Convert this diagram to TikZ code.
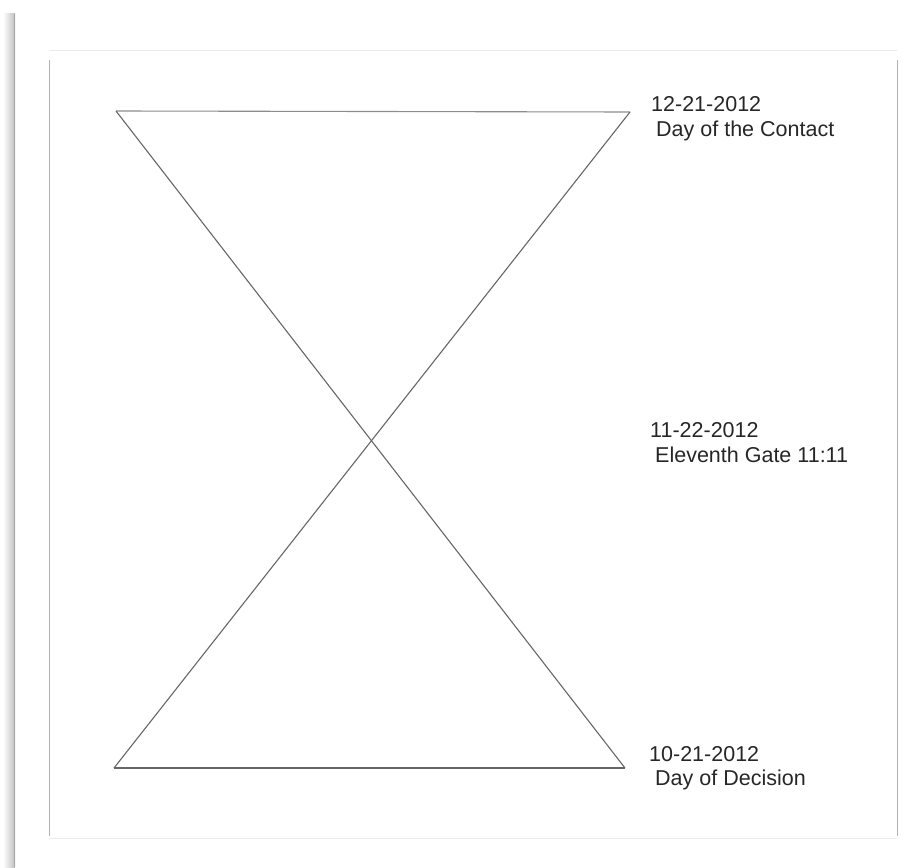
\documentclass[tikz,border=0pt]{standalone}
\usepackage{fontspec}
\setmainfont{Liberation Sans}
\usetikzlibrary{calc}

\tikzset{
  glass/.style={draw=black!60, line width=1.1pt},
  datelabel/.style={anchor=base west, inner sep=0pt, text=black!85,
    font=\fontsize{21.5}{25}\selectfont},
}

\begin{document}
\begin{tikzpicture}[x=1pt, y=-1pt]
  \useasboundingbox (0,0) rectangle (920,867);
  % page edge with its shadow
  \shade[left color=white, right color=black!25] (3,14) rectangle (15,867);
  \draw[black!35, line width=1pt] (14,14) -- (14,867);
  % card
  \draw[black!8, line width=1pt] (49,51) -- (897,51);
  \draw[black!8, line width=1pt] (49,838) -- (897,838);
  \draw[black!30, line width=1pt] (49,60) -- (49,836);
  \draw[black!30, line width=1pt] (897,60) -- (897,836);
  % hourglass
  \coordinate (TL) at (116,111);
  \coordinate (TR) at (630,112);
  \coordinate (BL) at (114,768);
  \coordinate (BR) at (625,768);
  \draw[glass, draw=black!45] (TL) -- (TR);
  \draw[glass] (BL) -- (BR);
  \draw[glass] (TL) -- (BR);
  \draw[glass] (TR) -- (BL);
  % labels
  \node[datelabel] (contactdate) at (651,111) {12-21-2012};
  \node[datelabel] (contactname) at (656,136) {Day of the Contact};
  \node[datelabel] (gatedate) at (650,437) {11-22-2012};
  \node[datelabel] (gatename) at (655,462) {Eleventh Gate 11:11};
  \node[datelabel] (decisiondate) at (649,761) {10-21-2012};
  \node[datelabel] (decisionname) at (655,785) {Day of Decision};
\end{tikzpicture}
\end{document}
